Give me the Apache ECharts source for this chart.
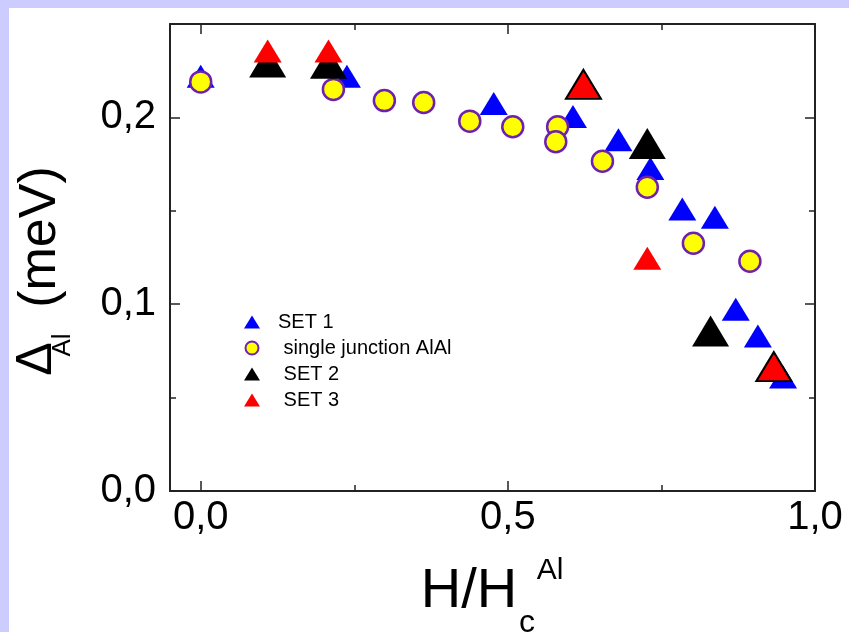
<!DOCTYPE html>
<html>
<head>
<meta charset="utf-8">
<script src="https://cdn.jsdelivr.net/npm/echarts@6/dist/echarts.min.js"></script>
<style>
html,body{margin:0;padding:0;background:#ccccff}
#chart{width:849px;height:632px}
</style>
</head>
<body>
<div id="chart"></div>
<script>
// SET 1 (blue triangles)
var set1X = [0.000, 0.238, 0.477, 0.606, 0.680, 0.732, 0.784, 0.837, 0.871, 0.907, 0.948];
var set1Y = [0.222, 0.222, 0.2075, 0.2005, 0.188, 0.1727, 0.151, 0.1465, 0.0973, 0.083, 0.061];
// single junction AlAl (yellow circles)
var junctionX = [0.000, 0.216, 0.299, 0.363, 0.438, 0.508, 0.581, 0.578, 0.654, 0.727, 0.802, 0.894];
var junctionY = [0.219, 0.215, 0.209, 0.208, 0.198, 0.195, 0.195, 0.187, 0.1765, 0.1626, 0.1326, 0.123];
// SET 2 (black triangles)
var set2X = [0.109, 0.208, 0.727, 0.830];
var set2Y = [0.2297, 0.229, 0.186, 0.0856];
// SET 3 (red triangles), some drawn bigger with a black edge
var set3X = [0.109, 0.208, 0.623, 0.727, 0.933];
var set3Y = [0.2355, 0.2355, 0.2177, 0.1246, 0.0666];
var set3Outlined = [false, false, true, false, true];

var legendNames = ['SET 1', 'single junction AlAl', 'SET 2', 'SET 3'];

// ticks
var xTickValues = [0, 0.5, 1.0];
var xTickLabels = ['0,0', '0,5', '1,0'];
var xMinorTicks = [0.25, 0.75];
var yTickValues = [0, 0.1, 0.2];
var yTickLabels = ['0,0', '0,1', '0,2'];
var yMinorTicks = [0.05, 0.15];

function pairs(xs, ys, keep) {
	var out = [];
	for (var i = 0; i < xs.length; i++) {
		if (!keep || keep(i)) out.push([xs[i], ys[i]]);
	}
	return out;
}

var FONT = 'Liberation Sans, Arial, sans-serif';
var frame = { color: '#222', width: 2 };

// one axis of the frame; major axes carry the line, minor ones only short ticks
function xAx(pos, ticks, len, labels) {
	return {
		type: 'value', position: pos, min: -0.05, max: 1.0,
		axisLine: { show: len > 6, onZero: false, lineStyle: frame },
		axisTick: { inside: true, length: len, customValues: ticks, lineStyle: { color: '#222', width: 1.5 } },
		axisLabel: {
			show: !!labels, customValues: xTickValues, margin: 7,
			fontSize: 40, fontFamily: FONT, color: '#000',
			formatter: function (v) {
				var i = xTickValues.indexOf(v);
				return i >= 0 ? xTickLabels[i] : '';
			}
		},
		splitLine: { show: false }
	};
}
function yAx(pos, ticks, len, labels) {
	return {
		type: 'value', position: pos, min: 0, max: 0.25,
		axisLine: { show: len > 6, onZero: false, lineStyle: frame },
		axisTick: { inside: true, length: len, customValues: ticks, lineStyle: { color: '#222', width: 1.5 } },
		axisLabel: {
			show: !!labels, customValues: yTickValues, margin: 14,
			fontSize: 40, fontFamily: FONT, color: '#000',
			formatter: function (v) {
				var i = yTickValues.indexOf(v);
				return i >= 0 ? yTickLabels[i] : '';
			}
		},
		splitLine: { show: false }
	};
}

var chart = echarts.init(document.getElementById('chart'));

var option = {
	animation: false,
	backgroundColor: '#ccccff',
	grid: { left: 170, top: 24, right: 34, bottom: 141 },
	xAxis: [
		xAx('bottom', xTickValues, 10, true),
		xAx('top', xTickValues, 10, false),
		xAx('bottom', xMinorTicks, 6, false),
		xAx('top', xMinorTicks, 6, false)
	],
	yAxis: [
		yAx('left', yTickValues, 10, true),
		yAx('right', yTickValues, 10, false),
		yAx('left', yMinorTicks, 6, false),
		yAx('right', yMinorTicks, 6, false)
	],
	legend: {
		data: legendNames,
		orient: 'vertical',
		left: 239, top: 307,
		itemWidth: 16, itemHeight: 13, itemGap: 6,
		selectedMode: false,
		textStyle: { fontSize: 20, fontFamily: FONT, color: '#000', padding: [0, 0, 0, 13] },
		formatter: function (name) { return name === 'SET 1' ? name : ' ' + name; }
	},
	graphic: [
		{ type: 'rect', z: -10, shape: { x: 9, y: 8, width: 840, height: 624 }, style: { fill: '#fff' } },
		// x title H/Hc^Al
		{ type: 'text', x: 469, y: 592, style: { text: 'H/H', font: '56px ' + FONT, fill: '#000', align: 'center', verticalAlign: 'middle', textAlign: 'center', textVerticalAlign: 'middle' } },
		{ type: 'text', x: 527, y: 623, style: { text: 'c', font: '32px ' + FONT, fill: '#000', align: 'center', verticalAlign: 'middle', textAlign: 'center', textVerticalAlign: 'middle' } },
		{ type: 'text', x: 550, y: 571, style: { text: 'Al', font: '30px ' + FONT, fill: '#000', align: 'center', verticalAlign: 'middle', textAlign: 'center', textVerticalAlign: 'middle' } },
		// y title Δ_Al (meV)
		{ type: 'text', x: 37, y: 359, rotation: Math.PI / 2, style: { text: 'Δ', font: '50px ' + FONT, fill: '#000', align: 'center', verticalAlign: 'middle', textAlign: 'center', textVerticalAlign: 'middle' } },
		{ type: 'text', x: 63, y: 345, rotation: Math.PI / 2, style: { text: 'Al', font: '26px ' + FONT, fill: '#000', align: 'center', verticalAlign: 'middle', textAlign: 'center', textVerticalAlign: 'middle' } },
		{ type: 'text', x: 41, y: 237, rotation: Math.PI / 2, style: { text: '(meV)', font: '52px ' + FONT, fill: '#000', align: 'center', verticalAlign: 'middle', textAlign: 'center', textVerticalAlign: 'middle' } }
	],
	series: [
		{
			name: 'SET 1', type: 'scatter', symbol: 'triangle', symbolSize: [28, 23],
			itemStyle: { color: '#0000ff', opacity: 1 },
			data: pairs(set1X, set1Y)
		},
		{
			name: 'single junction AlAl', type: 'scatter', symbol: 'circle', symbolSize: 21,
			itemStyle: { color: '#ffff00', borderColor: '#7020b0', borderWidth: 2.5, opacity: 1 },
			data: pairs(junctionX, junctionY)
		},
		{
			name: 'SET 2', type: 'scatter', symbol: 'triangle', symbolSize: [37, 31],
			itemStyle: { color: '#000000', opacity: 1 },
			data: pairs(set2X, set2Y)
		},
		{
			name: 'SET 3', type: 'scatter', symbol: 'triangle', symbolSize: [28, 23],
			itemStyle: { color: '#ff0000', opacity: 1 },
			data: pairs(set3X, set3Y, function (i) { return !set3Outlined[i]; })
		},
		{
			name: 'SET 3 outlined', type: 'scatter', symbol: 'triangle', symbolSize: [35, 29],
			itemStyle: { color: '#ff0000', borderColor: '#000', borderWidth: 2, opacity: 1 },
			data: pairs(set3X, set3Y, function (i) { return set3Outlined[i]; })
		}
	]
};

chart.setOption(option);
</script>
</body>
</html>
